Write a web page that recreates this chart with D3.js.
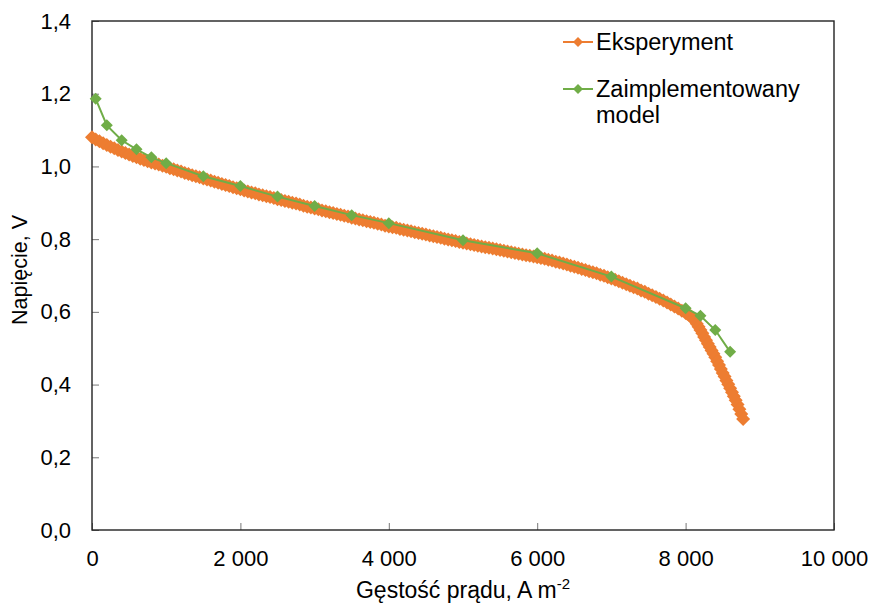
<!DOCTYPE html>
<html>
<head>
<meta charset="utf-8">
<script src="https://cdn.jsdelivr.net/npm/d3@7"></script>
<style>
  body { margin: 0; background: #fff; }
  text { font-family: "Liberation Sans", Arial, sans-serif; fill: #000; }
</style>
</head>
<body>
<svg id="chart" width="872" height="603"></svg>
<script>
// eksperyment: gestosc pradu [A m-2] i napiecie [V]
var expCurrent = [
  0, 50, 100, 150, 200, 250, 300, 350, 400, 450,
  500, 550, 600, 650, 700, 750, 800, 850, 900, 950,
  1000, 1050, 1100, 1150, 1200, 1250, 1300, 1350, 1400, 1450,
  1500, 1550, 1600, 1650, 1700, 1750, 1800, 1850, 1900, 1950,
  2000, 2050, 2100, 2150, 2200, 2250, 2300, 2350, 2400, 2450,
  2500, 2550, 2600, 2650, 2700, 2750, 2800, 2850, 2900, 2950,
  3000, 3050, 3100, 3150, 3200, 3250, 3300, 3350, 3400, 3450,
  3500, 3550, 3600, 3650, 3700, 3750, 3800, 3850, 3900, 3950,
  4000, 4050, 4100, 4150, 4200, 4250, 4300, 4350, 4400, 4450,
  4500, 4550, 4600, 4650, 4700, 4750, 4800, 4850, 4900, 4950,
  5000, 5050, 5100, 5150, 5200, 5250, 5300, 5350, 5400, 5450,
  5500, 5550, 5600, 5650, 5700, 5750, 5800, 5850, 5900, 5950,
  6000, 6050, 6100, 6150, 6200, 6250, 6300, 6350, 6400, 6450,
  6500, 6550, 6600, 6650, 6700, 6750, 6800, 6850, 6900, 6950,
  7000, 7050, 7100, 7150, 7200, 7250, 7300, 7350, 7400, 7450,
  7500, 7550, 7600, 7650, 7700, 7750, 7800, 7850, 7900, 7950,
  8000, 8025, 8050, 8075, 8100, 8125, 8150, 8175, 8200, 8225,
  8250, 8275, 8300, 8325, 8350, 8375, 8400, 8425, 8450, 8475,
  8500, 8525, 8550, 8575, 8600, 8625, 8650, 8675, 8700, 8725,
  8750, 8775
]
var expVoltage = [
  1.080, 1.074, 1.069, 1.064, 1.059, 1.054, 1.050, 1.045, 1.041, 1.037,
  1.033, 1.029, 1.025, 1.021, 1.018, 1.014, 1.011, 1.008, 1.005, 1.002,
  0.999, 0.995, 0.992, 0.989, 0.986, 0.982, 0.979, 0.976, 0.973, 0.970,
  0.967, 0.964, 0.961, 0.958, 0.955, 0.952, 0.949, 0.946, 0.943, 0.940,
  0.937, 0.934, 0.931, 0.928, 0.926, 0.923, 0.921, 0.918, 0.916, 0.913,
  0.910, 0.908, 0.905, 0.903, 0.900, 0.898, 0.895, 0.892, 0.889, 0.887,
  0.884, 0.882, 0.879, 0.877, 0.874, 0.872, 0.869, 0.867, 0.864, 0.862,
  0.859, 0.857, 0.854, 0.852, 0.849, 0.847, 0.845, 0.842, 0.840, 0.837,
  0.835, 0.833, 0.831, 0.828, 0.826, 0.824, 0.822, 0.819, 0.817, 0.815,
  0.813, 0.810, 0.808, 0.806, 0.804, 0.801, 0.799, 0.797, 0.795, 0.792,
  0.790, 0.788, 0.786, 0.784, 0.782, 0.780, 0.778, 0.776, 0.774, 0.772,
  0.770, 0.768, 0.766, 0.764, 0.762, 0.760, 0.758, 0.756, 0.754, 0.752,
  0.750, 0.748, 0.746, 0.743, 0.741, 0.738, 0.736, 0.733, 0.730, 0.727,
  0.724, 0.721, 0.718, 0.715, 0.712, 0.709, 0.706, 0.702, 0.699, 0.695,
  0.692, 0.688, 0.684, 0.680, 0.676, 0.672, 0.668, 0.664, 0.659, 0.655,
  0.650, 0.646, 0.641, 0.636, 0.631, 0.626, 0.620, 0.615, 0.609, 0.603,
  0.597, 0.594, 0.591, 0.587, 0.582, 0.575, 0.567, 0.559, 0.550, 0.541,
  0.531, 0.522, 0.512, 0.503, 0.494, 0.485, 0.475, 0.464, 0.454, 0.443,
  0.432, 0.422, 0.411, 0.401, 0.390, 0.379, 0.368, 0.357, 0.345, 0.332,
  0.319, 0.305
]

// zaimplementowany model
var modelCurrent = [50, 200, 400, 600, 800, 1000, 1500, 2000, 2500, 3000,
  3500, 4000, 5000, 6000, 7000, 8000, 8200, 8400, 8600]
var modelVoltage = [1.186, 1.113, 1.072, 1.047, 1.025, 1.009, 0.973, 0.946, 0.917, 0.891,
  0.866, 0.844, 0.797, 0.761, 0.697, 0.610, 0.589, 0.550, 0.490]

var xTicks = [0, 2000, 4000, 6000, 8000, 10000]
var yTicks = [0, 0.2, 0.4, 0.6, 0.8, 1.0, 1.2, 1.4]
var seriesNames = ['Eksperyment', 'Zaimplementowany model']
var seriesColors = ['#ED7D31', '#70AD47']

var svg = d3.select('#chart')
var width = +svg.attr('width')
var height = +svg.attr('height')
var margin = { top: 21, left: 92, bottom: 73, right: 38 }
var chartWidth = width - margin.left - margin.right
var chartHeight = height - margin.top - margin.bottom

var locale = d3.formatLocale({ decimal: ',', thousands: ' ', grouping: [3], currency: ['', ''] })

var x = d3.scaleLinear().domain([0, 10000]).range([0, chartWidth])
var y = d3.scaleLinear().domain([0, 1.4]).range([chartHeight, 0])

var g = svg.append('g')
  .attr('transform', 'translate(' + margin.left + ',' + margin.top + ')')

// axes with inward ticks
var gX = g.append('g')
  .attr('transform', 'translate(0,' + chartHeight + ')')
  .call(d3.axisBottom(x).tickValues(xTicks).tickSizeInner(-7).tickSizeOuter(0)
    .tickPadding(20).tickFormat(locale.format(',')))
var gY = g.append('g')
  .call(d3.axisLeft(y).tickValues(yTicks).tickSizeInner(-7).tickSizeOuter(0)
    .tickPadding(21).tickFormat(locale.format('.1f')))

;[gX, gY].forEach(function (ax) {
  ax.select('.domain').remove()
  ax.selectAll('.tick line').attr('stroke', '#777').attr('stroke-width', 1)
  ax.selectAll('.tick text').attr('font-size', 22).attr('fill', '#000')
    .attr('font-family', '"Liberation Sans", Arial, sans-serif')
})

// frame
g.append('rect')
  .attr('x', 0).attr('y', 0)
  .attr('width', chartWidth).attr('height', chartHeight)
  .attr('fill', 'none').attr('stroke', '#222').attr('stroke-width', 1.4)

function diamond (r) {
  return 'M0,' + (-r) + 'L' + r + ',0L0,' + r + 'L' + (-r) + ',0Z'
}

var expData = expCurrent.map(function (c, i) { return { c: c, v: expVoltage[i] } })
var modelData = modelCurrent.map(function (c, i) { return { c: c, v: modelVoltage[i] } })

var line = d3.line()
  .x(function (d) { return x(d.c) })
  .y(function (d) { return y(d.v) })

// experiment
g.append('path').datum(expData)
  .attr('fill', 'none').attr('stroke', seriesColors[0]).attr('stroke-width', 2)
  .attr('d', line)
g.append('g').selectAll('path')
  .data(expData).enter().append('path')
  .attr('transform', function (d) { return 'translate(' + x(d.c) + ',' + y(d.v) + ')' })
  .attr('d', diamond(7))
  .attr('fill', seriesColors[0])

// model
g.append('path').datum(modelData)
  .attr('fill', 'none').attr('stroke', seriesColors[1]).attr('stroke-width', 2)
  .attr('d', line)
g.append('g').selectAll('path')
  .data(modelData).enter().append('path')
  .attr('transform', function (d) { return 'translate(' + x(d.c) + ',' + y(d.v) + ')' })
  .attr('d', diamond(6))
  .attr('fill', seriesColors[1])

// legend
var legend = svg.append('g').attr('transform', 'translate(563,0)')
var legendY = [42, 89]
seriesNames.forEach(function (name, i) {
  var row = legend.append('g').attr('transform', 'translate(0,' + legendY[i] + ')')
  row.append('line').attr('x1', 0).attr('x2', 30)
    .attr('stroke', seriesColors[i]).attr('stroke-width', 2)
  row.append('path').attr('transform', 'translate(15,0)')
    .attr('d', diamond(5)).attr('fill', seriesColors[i])
  var words = i === 1 ? ['Zaimplementowany', 'model'] : [name]
  words.forEach(function (w, j) {
    row.append('text').attr('x', 33).attr('y', 8 + j * 26)
      .attr('font-size', 23.5).text(w)
  })
})

// axis titles
var xTitle = svg.append('text')
  .attr('x', margin.left + chartWidth / 2).attr('y', 598)
  .attr('text-anchor', 'middle').attr('font-size', 23)
xTitle.append('tspan').text('Gęstość prądu, A m')
xTitle.append('tspan').attr('dy', -9).attr('font-size', 15).text('-2')

svg.append('text')
  .attr('transform', 'translate(27,270) rotate(-90)')
  .attr('text-anchor', 'middle').attr('font-size', 21.5)
  .text('Napięcie, V')
</script>
</body>
</html>
